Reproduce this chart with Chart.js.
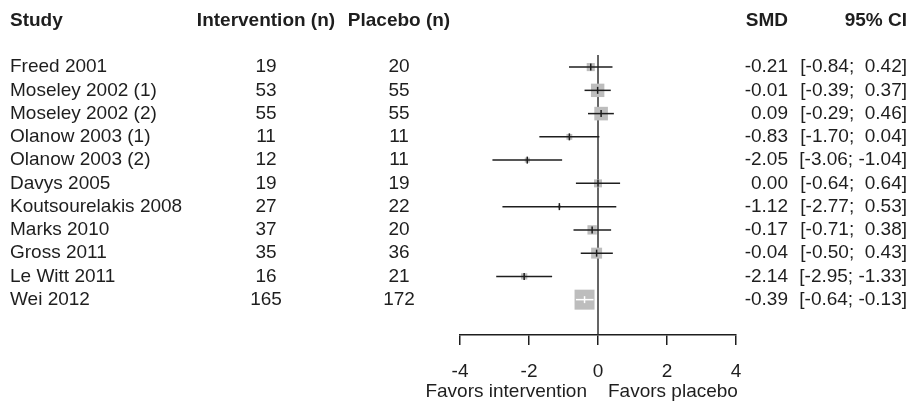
<!DOCTYPE html>
<html>
<head>
<meta charset="utf-8">
<script src="https://cdn.jsdelivr.net/npm/chart.js@4"></script>
<style>
  html, body { margin: 0; padding: 0; background: #fff; }
  #wrap { width: 913px; height: 401px; position: relative; }
</style>
</head>
<body>
<div id="wrap"><canvas id="forest"></canvas></div>
<script>
const studies = ['Freed 2001', 'Moseley 2002 (1)', 'Moseley 2002 (2)', 'Olanow 2003 (1)', 'Olanow 2003 (2)',
  'Davys 2005', 'Koutsourelakis 2008', 'Marks 2010', 'Gross 2011', 'Le Witt 2011', 'Wei 2012'];
const nIntervention = [19, 53, 55, 11, 12, 19, 27, 37, 35, 16, 165];
const nPlacebo = [20, 55, 55, 11, 11, 19, 22, 20, 36, 21, 172];
const smd = [-0.21, -0.01, 0.09, -0.83, -2.05, 0.00, -1.12, -0.17, -0.04, -2.14, -0.39];
const ciLow = [-0.84, -0.39, -0.29, -1.70, -3.06, -0.64, -2.77, -0.71, -0.50, -2.95, -0.64];
const ciHigh = [0.42, 0.37, 0.46, 0.04, -1.04, 0.64, 0.53, 0.38, 0.43, -1.33, -0.13];
const xTicks = [-4, -2, 0, 2, 4];

const FONT = '"Liberation Sans", Arial, sans-serif';
const INK = '#1e1e1e';

// square side (px) from inverse-variance weight, as the forest plot does
const side = smd.map((m, i) => {
  const se = (ciHigh[i] - ciLow[i]) / 3.92;
  return 2.6 / se;
});
const pxPerUnit = 34.45;
const inside = smd.map((m, i) => (ciHigh[i] - ciLow[i]) * pxPerUnit < side[i]);

const ciSets = studies.map((s, i) => ({
  type: 'line',
  data: [{ x: ciLow[i], y: i }, { x: ciHigh[i], y: i }],
  borderColor: inside[i] ? '#ffffff' : INK,
  borderWidth: 1.5,
  pointRadius: 0,
  order: 2
}));

const textPlugin = {
  id: 'forestText',
  afterDraw(chart) {
    const { ctx, scales: { x, y } } = chart;
    ctx.save();
    ctx.fillStyle = INK;
    ctx.textBaseline = 'middle';

    const hy = y.getPixelForValue(-2);
    ctx.font = 'bold 19px ' + FONT;
    ctx.textAlign = 'left';
    ctx.fillText('Study', 10, hy);
    ctx.textAlign = 'center';
    ctx.fillText('Intervention (n)', 266, hy);
    ctx.fillText('Placebo (n)', 399, hy);
    ctx.textAlign = 'right';
    ctx.fillText('SMD', 788, hy);
    ctx.fillText('95% CI', 907, hy);

    ctx.font = '19px ' + FONT;
    const f = v => (v < 0 ? '' : ' ') + v.toFixed(2);
    studies.forEach((s, i) => {
      const py = y.getPixelForValue(i);
      ctx.textAlign = 'left';
      ctx.fillText(s, 10, py);
      ctx.textAlign = 'center';
      ctx.fillText(String(nIntervention[i]), 266, py);
      ctx.fillText(String(nPlacebo[i]), 399, py);
      ctx.textAlign = 'right';
      ctx.fillText(smd[i].toFixed(2), 788, py);
      ctx.fillText('[' + ciLow[i].toFixed(2) + '; ' + f(ciHigh[i]) + ']', 907, py);
    });

    const zx = x.getPixelForValue(0);
    ctx.textAlign = 'right';
    ctx.fillText('Favors intervention', zx - 11, 392);
    ctx.textAlign = 'left';
    ctx.fillText('Favors placebo', zx + 10, 392);
    ctx.restore();
  }
};

new Chart(document.getElementById('forest'), {
  type: 'scatter',
  data: {
    datasets: [
      {
        type: 'line',
        data: [{ x: 0, y: -0.52 }, { x: 0, y: 11.52 }],
        borderColor: '#333',
        borderWidth: 1.5,
        pointRadius: 0,
        order: 4
      },
      {
        data: smd.map((m, i) => ({ x: m, y: i })),
        pointStyle: 'rect',
        pointRadius: side.map(v => v / Math.SQRT2),
        backgroundColor: '#bdbdbd',
        borderWidth: 0,
        order: 3
      },
      ...ciSets,
      {
        data: smd.map((m, i) => ({ x: m, y: i })),
        pointStyle: 'line',
        rotation: 90,
        pointRadius: 3.5,
        borderColor: inside.map(v => v ? '#ffffff' : INK),
        borderWidth: 1.5,
        order: 1
      }
    ]
  },
  options: {
    responsive: true,
    maintainAspectRatio: false,
    animation: false,
    layout: { padding: { left: 460, right: 177, top: 55, bottom: 0 } },
    plugins: { legend: { display: false }, tooltip: { enabled: false } },
    scales: {
      x: {
        type: 'linear',
        min: -4,
        max: 4,
        afterBuildTicks: axis => { axis.ticks = xTicks.map(v => ({ value: v })); },
        afterFit: axis => { axis.height = 66; },
        ticks: { color: INK, font: { family: FONT, size: 19 }, padding: 15 },
        grid: { drawOnChartArea: false, tickLength: 10, color: INK, lineWidth: 1.5 },
        border: { color: INK, width: 1.5 }
      },
      y: {
        type: 'linear',
        reverse: true,
        min: -0.52,
        max: 11.52,
        display: false
      }
    }
  },
  plugins: [textPlugin]
});
</script>
</body>
</html>
